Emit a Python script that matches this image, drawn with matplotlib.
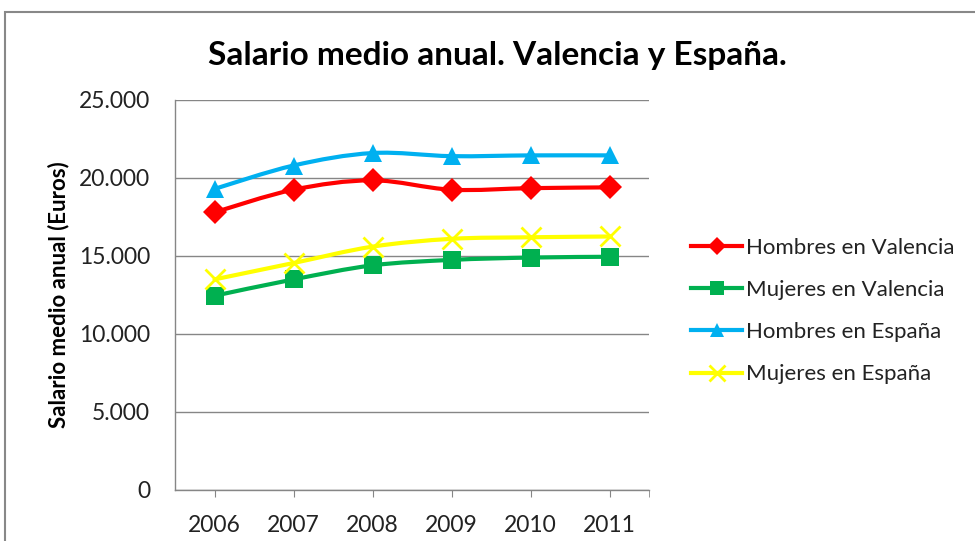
import numpy as np
import matplotlib
matplotlib.use("Agg")
import matplotlib.pyplot as plt
from matplotlib.path import Path
from matplotlib.patches import PathPatch, Rectangle
from matplotlib.lines import Line2D

plt.rcParams['font.family'] = ['Lato', 'DejaVu Sans']

# Datos (euros)
years = [2006, 2007, 2008, 2009, 2010, 2011]
hombres_valencia = [17800, 19250, 19850, 19250, 19350, 19400]
mujeres_valencia = [12450, 13500, 14400, 14750, 14900, 14950]
hombres_espana = [19300, 20800, 21600, 21400, 21450, 21450]
mujeres_espana = [13500, 14550, 15600, 16100, 16200, 16250]

labels = ["Hombres en Valencia", "Mujeres en Valencia",
          "Hombres en España", "Mujeres en España"]
colors = ["#FF0000", "#00B050", "#00B0F0", "#FFFF00"]
markers = ["D", "s", "^", "x"]
msizes = [12, 13, 13, 14]
series = [hombres_valencia, mujeres_valencia, hombres_espana, mujeres_espana]


def smooth_path(x, y):
    # curva suavizada tipo Excel (Bezier con tangentes Catmull-Rom)
    pts = np.column_stack([x, y]).astype(float)
    n = len(pts)
    verts = [pts[0]]
    codes = [Path.MOVETO]
    for i in range(n - 1):
        p0 = pts[i - 1] if i > 0 else pts[i]
        p1 = pts[i]
        p2 = pts[i + 1]
        p3 = pts[i + 2] if i + 2 < n else pts[i + 1]
        c1 = p1 + (p2 - p0) / 6.0
        c2 = p2 - (p3 - p1) / 6.0
        verts += [c1, c2, p2]
        codes += [Path.CURVE4] * 3
    return Path(verts, codes)


fig = plt.figure(figsize=(9.75, 5.41), dpi=100)
ax = fig.add_axes([175 / 975, 1 - 490 / 541, (649 - 175) / 975, 390 / 541])

handles = []
for vals, lab, col, mk, ms in zip(series, labels, colors, markers, msizes):
    patch = PathPatch(smooth_path(years, vals), facecolor="none",
                      edgecolor=col, lw=3, transform=ax.transData, zorder=3,
                      capstyle="round", joinstyle="round")
    ax.add_patch(patch)
    mew = 2 if mk == "x" else 0
    ax.plot(years, vals, linestyle="none", marker=mk, ms=ms, color=col,
            mec=col, mew=mew, zorder=4)
    handles.append(Line2D([], [], color=col, lw=3, marker=mk,
                          ms=ms * 0.8, mec=col, mew=mew, label=lab))

ax.set_xlim(2005.5, 2011.5)
ax.set_ylim(0, 25000)
ax.set_yticks(np.arange(0, 25001, 5000))
ax.set_yticklabels(["0", "5.000", "10.000", "15.000", "20.000", "25.000"])
ax.set_xticks(years)
ax.set_xticks([2011.5], minor=True)
ax.tick_params(axis="x", which="both", direction="out", length=5,
               color="#868686", pad=13, labelsize=16.5, labelcolor="#222222")
ax.tick_params(axis="y", length=0, pad=18, labelsize=16.5, labelcolor="#222222")
ax.grid(axis="y", color="#868686", lw=1)
ax.set_axisbelow(True)
for s in ["top", "right"]:
    ax.spines[s].set_visible(False)
for s in ["left", "bottom"]:
    ax.spines[s].set_color("#868686")
    ax.spines[s].set_linewidth(1)

ax.set_ylabel("Salario medio anual (Euros)", fontsize=16, fontweight="bold")
ax.yaxis.set_label_coords(-106 / 474, 0.5)

fig.text(497 / 975, 1 - 55 / 541, "Salario medio anual. Valencia y España.",
         ha="center", va="center", fontsize=24, fontweight="bold")

fig.legend(handles=handles, loc="center left",
           bbox_to_anchor=(671 / 975, 1 - 311 / 541), frameon=False,
           fontsize=16, handlelength=2.3, handletextpad=0.18,
           labelspacing=1.0, labelcolor="#222222")

# marco del gráfico
fig.patches.append(Rectangle((5 / 975, -0.1), 1.1, 1 - 12 / 541 + 0.1,
                             transform=fig.transFigure, fill=False,
                             edgecolor="#888888", lw=1.5))

fig.savefig("out.png", dpi=100)
